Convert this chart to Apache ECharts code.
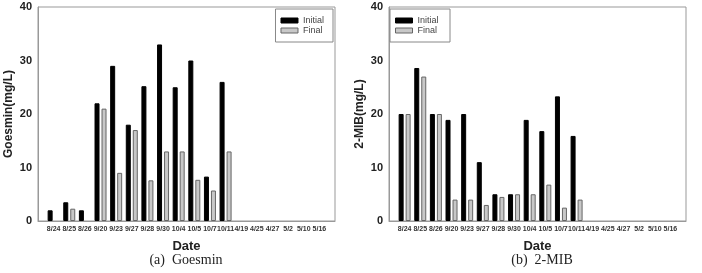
<!DOCTYPE html>
<html>
<head>
<meta charset="utf-8">
<script src="https://cdn.jsdelivr.net/npm/echarts@6/dist/echarts.min.js"></script>
<style>
  html, body { margin: 0; padding: 0; background: #fff; }
  #chart { width: 702px; height: 273px; }
</style>
</head>
<body>
<div id="chart"></div>
<script>
// 측정 날짜 (양 끝 빈 칸은 여백용)
var dates = ['', '8/24', '8/25', '8/26', '9/20', '9/23', '9/27', '9/28', '9/30', '10/4', '10/5', '10/7', '10/11', '4/19', '4/25', '4/27', '5/2', '5/10', '5/16', ''];

// (a) Goesmin
var geoInitial = [null, 2.0, 3.5, 2.0, 22, 29, 18, 25.2, 33, 25, 30, 8.3, 26, null, null, null, null, null, null, null];
var geoFinal   = [null, null, 2.3, null, 21, 9.0, 17, 7.6, 13, 13, 7.7, 5.7, 13, null, null, null, null, null, null, null];

// (b) 2-MIB
var mibInitial = [null, 20, 28.6, 20, 18.9, 20, 11, 5.0, 5.0, 18.9, 16.8, 23.3, 15.9, null, null, null, null, null, null, null];
var mibFinal   = [null, 20, 27.0, 20, 4.0, 4.0, 3.0, 4.5, 5.0, 5.0, 6.8, 2.5, 4.0, null, null, null, null, null, null, null];

var yTicks = [0, 10, 20, 30, 40];

var font = 'Liberation Sans, Arial, sans-serif';

function makeXAxis(idx) {
    return {
        type: 'category',
        gridIndex: idx,
        data: dates,
        boundaryGap: false,
        axisLine: { lineStyle: { color: '#999', width: 1 } },
        axisTick: { show: false },
        axisLabel: {
            interval: 0,
            fontSize: 7,
            fontWeight: 'bold',
            color: '#333',
            fontFamily: font,
            margin: 5
        },
        splitLine: { show: false },
        name: 'Date',
        nameLocation: 'middle',
        nameGap: 19,
        nameTextStyle: { fontSize: 13, fontWeight: 'bold', color: '#222', fontFamily: font }
    }
}

function makeYAxis(idx, name) {
    return {
        type: 'value',
        gridIndex: idx,
        min: yTicks[0],
        max: yTicks[yTicks.length - 1],
        interval: 10,
        axisLine: { show: true, lineStyle: { color: '#999', width: 1 } },
        axisTick: { show: false },
        splitLine: { show: false },
        axisLabel: {
            fontSize: 11,
            fontWeight: 'bold',
            color: '#222',
            fontFamily: font,
            margin: 6
        },
        name: name,
        nameLocation: 'middle',
        nameGap: 23,
        nameTextStyle: { fontSize: 12, fontWeight: 'bold', color: '#222', fontFamily: font }
    }
}

function makeBars(idx, name, values, color, border) {
    return {
        name: name,
        type: 'bar',
        xAxisIndex: idx,
        yAxisIndex: idx,
        data: values,
        barWidth: 5,
        barGap: '40%',
        itemStyle: { color: color, borderColor: border, borderWidth: 1 },
        emphasis: { disabled: true }
    }
}

var legendBase = {
    orient: 'vertical',
    top: 9,
    icon: 'rect',
    itemWidth: 17,
    itemHeight: 5,
    itemGap: 1,
    padding: [7, 9, 7, 5],
    borderColor: '#888',
    borderWidth: 1,
    backgroundColor: '#fff',
    textStyle: { fontSize: 9, lineHeight: 9, color: '#444', fontFamily: font },
    selectedMode: false
}

var myChart = echarts.init(document.getElementById('chart'))
myChart.setOption({
    animation: false,
    backgroundColor: '#fff',
    title: [
        {
            text: '(a)  Goesmin',
            left: 181, top: 248, textAlign: 'center',
            textStyle: { fontSize: 14, fontWeight: 'normal', color: '#222', fontFamily: 'Liberation Serif, DejaVu Serif, serif' }
        },
        {
            text: '(b)  2-MIB',
            left: 537, top: 248, textAlign: 'center',
            textStyle: { fontSize: 14, fontWeight: 'normal', color: '#222', fontFamily: 'Liberation Serif, DejaVu Serif, serif' }
        }
    ],
    grid: [
        { left: 38, top: 7, width: 297, height: 214, show: true, borderColor: '#999', borderWidth: 1 },
        { left: 389, top: 7, width: 297, height: 214, show: true, borderColor: '#999', borderWidth: 1 }
    ],
    legend: [
        Object.assign({}, legendBase, {
            right: 369,
            data: [
                { name: 'Initial', itemStyle: { color: '#000', borderColor: '#000', borderWidth: 1 } },
                { name: 'Final', itemStyle: { color: '#c8c8c8', borderColor: '#666', borderWidth: 1 } }
            ]
        }),
        Object.assign({}, legendBase, {
            left: 390,
            data: [
                { name: 'Initial ', itemStyle: { color: '#000', borderColor: '#000', borderWidth: 1 } },
                { name: 'Final ', itemStyle: { color: '#c8c8c8', borderColor: '#666', borderWidth: 1 } }
            ]
        })
    ],
    xAxis: [makeXAxis(0), makeXAxis(1)],
    yAxis: [makeYAxis(0, 'Goesmin(mg/L)'), makeYAxis(1, '2-MIB(mg/L)')],
    series: [
        makeBars(0, 'Initial', geoInitial, '#000', '#000'),
        makeBars(0, 'Final', geoFinal, '#c8c8c8', '#666'),
        makeBars(1, 'Initial ', mibInitial, '#000', '#000'),
        makeBars(1, 'Final ', mibFinal, '#c8c8c8', '#666')
    ]
})
</script>
</body>
</html>
